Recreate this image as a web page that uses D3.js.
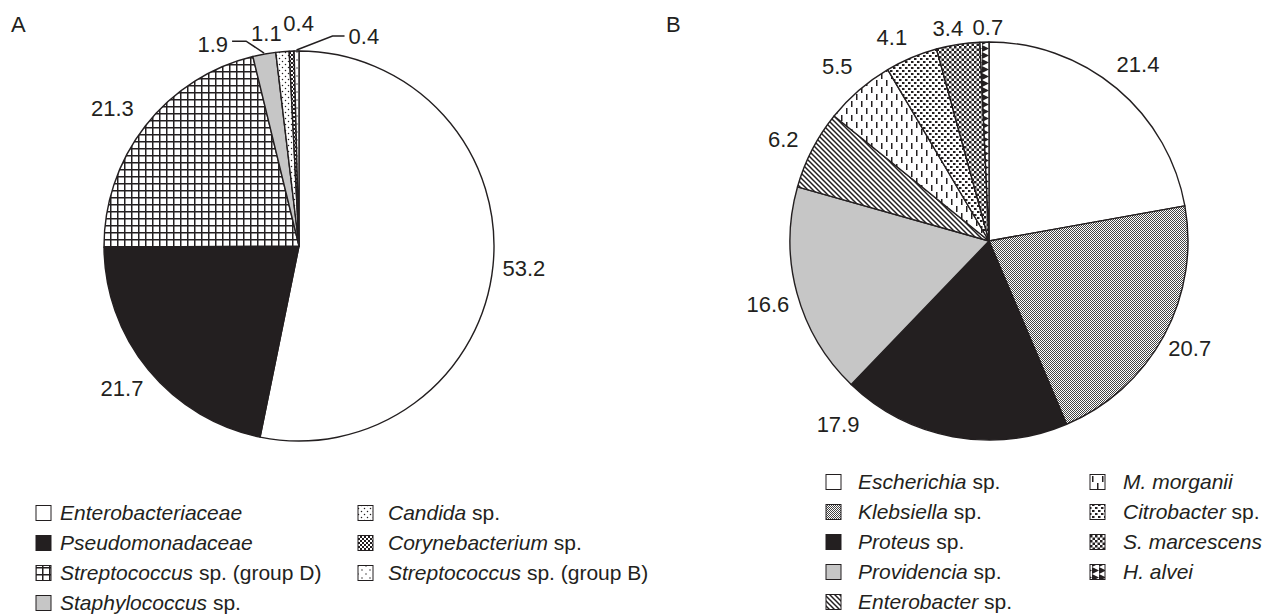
<!DOCTYPE html>
<html lang="en">
<head>
    <meta charset="UTF-8">
    <title>Pies</title>
    <script src="https://d3js.org/d3.v7.min.js"></script>
    <style>
        body { margin: 0; background: #fff; }
        text { font-family: "Liberation Sans", Arial, sans-serif; fill: #231f20; }
        .slice { stroke: #231f20; stroke-width: 1.4; stroke-linejoin: round; }
    </style>
</head>
<body>
<script>
    // panel A
    const categoriesA = ["Enterobacteriaceae", "Pseudomonadaceae", "Streptococcus sp. (group D)", "Staphylococcus sp.",
                         "Candida sp.", "Corynebacterium sp.", "Streptococcus sp. (group B)"];
    const valuesA = [53.2, 21.7, 21.3, 1.9, 1.1, 0.4, 0.4];
    const labelsA = ["53.2", "21.7", "21.3", "1.9", "1.1", "0.4", "0.4"];
    const fillsA  = ["white", "black", "grid", "gray", "dotsA", "checker", "dotsB"];

    // panel B
    const categoriesB = ["Escherichia sp.", "Klebsiella sp.", "Proteus sp.", "Providencia sp.", "Enterobacter sp.",
                         "M. morganii", "Citrobacter sp.", "S. marcescens", "H. alvei"];
    const valuesB = [21.4, 20.7, 17.9, 16.6, 6.2, 5.5, 4.1, 3.4, 0.7];
    const labelsB = ["21.4", "20.7", "17.9", "16.6", "6.2", "5.5", "4.1", "3.4", "0.7"];
    const fillsB  = ["white", "fineChecker", "black", "gray", "diag", "vdash", "sqDots", "checker3", "tri"];

    const width = 1267, height = 616;
    const ink = "#231f20";
    const fontSize = 22;
    const legendFont = 21;

    const svg = d3.select("body").append("svg").attr("width", width).attr("height", height);
    const defs = svg.append("defs");

    function pattern(id, w, h, draw) {
        const p = defs.append("pattern").attr("id", id)
            .attr("patternUnits", "userSpaceOnUse").attr("width", w).attr("height", h);
        p.append("rect").attr("width", w).attr("height", h).attr("fill", "#fff");
        draw(p);
    }
    pattern("grid", 7, 7, p => p.append("path").attr("d", "M0 0.75H7M0.75 0V7").attr("stroke", ink).attr("stroke-width", 1.5));
    pattern("dotsA", 6, 6, p => {
        p.append("circle").attr("cx", 1.5).attr("cy", 1.5).attr("r", 0.75).attr("fill", ink);
        p.append("circle").attr("cx", 4.5).attr("cy", 4.5).attr("r", 0.75).attr("fill", ink);
    });
    pattern("dotsB", 8, 8, p => {
        p.append("circle").attr("cx", 2).attr("cy", 2).attr("r", 0.7).attr("fill", ink);
        p.append("circle").attr("cx", 6).attr("cy", 6).attr("r", 0.7).attr("fill", ink);
    });
    pattern("checker", 4, 4, p => {
        p.append("rect").attr("width", 2).attr("height", 2).attr("fill", ink);
        p.append("rect").attr("x", 2).attr("y", 2).attr("width", 2).attr("height", 2).attr("fill", ink);
    });
    pattern("fineChecker", 2, 2, p => {
        p.append("rect").attr("width", 1).attr("height", 1).attr("fill", "#444");
        p.append("rect").attr("x", 1).attr("y", 1).attr("width", 1).attr("height", 1).attr("fill", "#444");
    });
    pattern("diag", 5, 5, p => p.append("path").attr("d", "M0 0L5 5M-1 4L1 6M4 -1L6 1").attr("stroke", ink).attr("stroke-width", 1.5));
    pattern("vdash", 10, 14, p => {
        p.append("rect").attr("x", 2).attr("y", 0).attr("width", 1.5).attr("height", 6).attr("fill", ink);
        p.append("rect").attr("x", 7).attr("y", 7).attr("width", 1.5).attr("height", 6).attr("fill", ink);
    });
    pattern("sqDots", 6, 6, p => {
        p.append("rect").attr("x", 0).attr("y", 0).attr("width", 2.5).attr("height", 2).attr("fill", ink);
        p.append("rect").attr("x", 3).attr("y", 3).attr("width", 2.5).attr("height", 2).attr("fill", ink);
    });
    pattern("checker3", 5, 5, p => {
        p.append("rect").attr("width", 2.5).attr("height", 2.5).attr("fill", ink);
        p.append("rect").attr("x", 2.5).attr("y", 2.5).attr("width", 2.5).attr("height", 2.5).attr("fill", ink);
    });
    pattern("tri", 7, 7, p => p.append("path").attr("d", "M0 0L7 3.5L0 7Z").attr("fill", ink));

    function fillOf(key) {
        if (key === "white") return "#fff";
        if (key === "black") return ink;
        if (key === "gray") return "#c6c6c6";
        return "url(#" + key + ")";
    }

    const pie = d3.pie().sort(null).value(d => d);

    function drawPie(values, fills, labels, cx, cy, r, labelR, nudges) {
        const g = svg.append("g").attr("transform", `translate(${cx},${cy})`);
        const arcs = pie(values);
        const arc = d3.arc().innerRadius(0).outerRadius(r);
        const labelArc = d3.arc().innerRadius(labelR).outerRadius(labelR);
        const edgeArc = d3.arc().innerRadius(r + 1).outerRadius(r + 1);

        g.selectAll("path.slice").data(arcs).enter().append("path")
            .attr("class", "slice")
            .attr("d", arc)
            .attr("fill", (d, i) => fillOf(fills[i]));

        arcs.forEach((d, i) => {
            const n = nudges[i] || {};
            let x, y;
            if (n.fromEdge) {
                const [ex, ey] = edgeArc.centroid(d);
                x = ex + n.dx; y = ey + n.dy;
                if (n.leader) {
                    g.append("path")
                        .attr("d", d3.line()([[ex, ey], [ex + n.leader[0][0], ey + n.leader[0][1]], [ex + n.leader[1][0], ey + n.leader[1][1]]]))
                        .attr("fill", "none").attr("stroke", ink).attr("stroke-width", 1.5);
                }
            } else {
                const [lx, ly] = labelArc.centroid(d);
                x = lx + (n.dx || 0); y = ly + (n.dy || 0);
            }
            g.append("text")
                .attr("x", x).attr("y", y)
                .attr("dy", "0.35em")
                .attr("text-anchor", n.anchor || "middle")
                .attr("font-size", fontSize)
                .text(labels[i]);
        });
    }

    drawPie(valuesA, fillsA, labelsA, 299, 246, 195, 224, [
        {dx: 2}, {dx: -4}, {dx: -10},
        {fromEdge: true, dx: -36, dy: -9, anchor: "end", leader: [[-18, -12], [-32, -12]]},
        {fromEdge: true, dx: -16, dy: -17},
        {fromEdge: true, dx: 7, dy: -27},
        {fromEdge: true, dx: 52, dy: -14, anchor: "start", leader: [[36, -14], [48, -14]]}
    ]);

    drawPie(valuesB, fillsB, labelsB, 989, 241, 199, 226, [
        {dx: 4, dy: -3}, {dx: 2}, {dx: -110, dy: -39}, {dx: -3, dy: 4},
        {dx: -5, dy: 2}, {dx: -4, dy: -4}, {dx: -9, dy: 4}, {dx: -6, dy: 11}, {dx: 4, dy: 12}
    ]);

    // panel letters
    svg.append("text").attr("x", 11).attr("y", 32).attr("font-size", fontSize).text("A");
    svg.append("text").attr("x", 666).attr("y", 32).attr("font-size", fontSize).text("B");

    function drawLegend(categories, fills, cols) {
        cols.forEach(col => {
            const items = d3.range(col.from, col.to);
            const gl = svg.append("g");
            items.forEach((idx, k) => {
                const y = col.y0 + k * col.step;
                gl.append("rect")
                    .attr("x", col.x).attr("y", y - 7.5).attr("width", 15).attr("height", 15)
                    .attr("fill", fillOf(fills[idx]))
                    .attr("stroke", ink).attr("stroke-width", 1);
                const name = categories[idx];
                const cut = name.indexOf(" sp.");
                const t = gl.append("text").attr("x", col.tx).attr("y", y).attr("dy", "0.35em").attr("font-size", legendFont);
                t.append("tspan").attr("font-style", "italic").text(cut >= 0 ? name.slice(0, cut) : name);
                if (cut >= 0) t.append("tspan").text(name.slice(cut));
            });
        });
    }

    drawLegend(categoriesA, fillsA, [
        {from: 0, to: 4, x: 36, tx: 60, y0: 513, step: 30},
        {from: 4, to: 7, x: 358, tx: 388, y0: 513, step: 30}
    ]);
    drawLegend(categoriesB, fillsB, [
        {from: 0, to: 5, x: 826, tx: 858, y0: 482, step: 30},
        {from: 5, to: 9, x: 1090, tx: 1123, y0: 482, step: 30}
    ]);
</script>
</body>
</html>
